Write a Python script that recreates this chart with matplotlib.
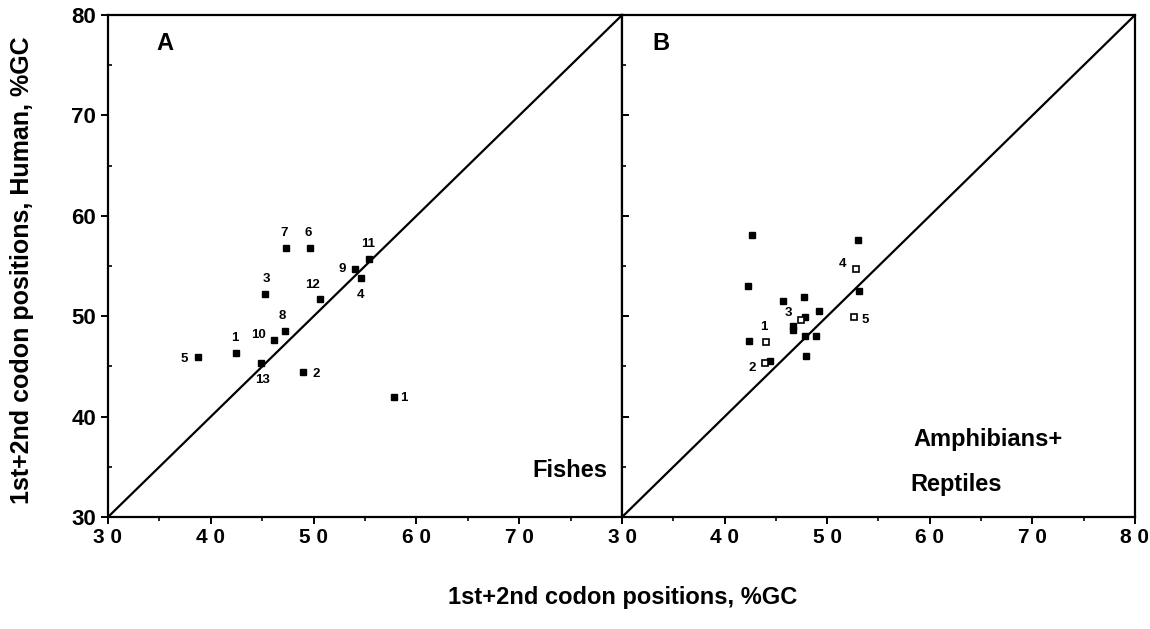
import numpy as np
import matplotlib
matplotlib.use("Agg")
import matplotlib.pyplot as plt

plt.rcParams['font.family'] = ['Liberation Sans Narrow', 'Liberation Sans', 'DejaVu Sans']
plt.rcParams['font.weight'] = 'bold'

# panel A: fishes
fish_x = [38.8, 42.5, 44.9, 45.3, 46.1, 47.2, 47.3, 49.0, 49.65, 50.6, 54.0, 54.6, 55.4, 57.8]
fish_y = [45.9, 46.3, 45.3, 52.2, 47.6, 48.5, 56.8, 44.4, 56.8, 51.7, 54.7, 53.8, 55.7, 42.0]
fish_lab = ['5', '1', '13', '3', '10', '8', '7', '2', '6', '12', '9', '4', '11', '1']
fish_off = [(-10, -1), (-1, 11), (1, -12), (1, 11), (-11, 4), (-2, 11), (-1, 11), (9, -1),
            (-1, 11), (-5, 10), (-9, 0), (0, -12), (-1, 11), (7, -1)]

# panel B: amphibians + reptiles, filled
amph_x = [42.7, 53.0, 42.3, 53.1, 45.7, 47.7, 49.2, 47.8, 46.7, 46.7, 47.8, 48.9, 42.35, 44.4, 47.9]
amph_y = [58.1, 57.6, 53.0, 52.5, 51.5, 51.9, 50.5, 49.95, 49.0, 48.6, 48.0, 48.0, 47.5, 45.5, 46.0]
# open squares, labelled
open_x = [44.0, 43.9, 47.45, 52.8, 52.6]
open_y = [47.4, 45.3, 49.6, 54.7, 49.95]
open_lab = ['1', '2', '3', '4', '5']
open_off = [(-1, 11), (-9, -3), (-9, 5), (-10, 4), (8, -2)]

fig = plt.figure(figsize=(11.5, 6.29), dpi=100)
axA = fig.add_axes([0.0939, 0.178, 0.447, 0.798])
axB = fig.add_axes([0.5409, 0.178, 0.446, 0.798])

for ax in (axA, axB):
    ax.set_xlim(30, 80)
    ax.set_ylim(30, 80)
    ax.plot([30, 80], [30, 80], color='black', lw=1.6)
    for s in ax.spines.values():
        s.set_linewidth(1.6)
    ax.set_xticks(np.arange(30, 81, 10))
    ax.set_xticks(np.arange(35, 80, 10), minor=True)
    ax.set_yticks(np.arange(30, 81, 10))
    ax.set_yticks(np.arange(35, 80, 10), minor=True)
    ax.tick_params(axis='x', which='major', direction='out', length=5, width=1.4, pad=3)
    ax.tick_params(axis='x', which='minor', direction='out', length=3, width=1.2)
    ax.tick_params(axis='y', which='major', direction='out', length=5, width=1.4)
    ax.tick_params(axis='y', which='minor', direction='in', length=3, width=1.2)

xt = ['3 0', '4 0', '5 0', '6 0', '7 0', '8 0']
axA.set_xticklabels(xt[:5] + [''], fontsize=15, fontweight='bold')
axB.set_xticklabels(xt, fontsize=15, fontweight='bold')
axA.set_yticklabels(['30', '40', '50', '60', '70', '80'], fontsize=16, fontweight='bold')
axB.tick_params(axis='y', which='major', direction='in', labelleft=False)

axA.plot(fish_x, fish_y, 's', color='black', ms=4.5)
for x, y, t, o in zip(fish_x, fish_y, fish_lab, fish_off):
    axA.annotate(t, (x, y), xytext=o, textcoords='offset points', ha='center', va='center',
                 fontsize=9.5, fontweight='bold')

axB.plot(amph_x, amph_y, 's', color='black', ms=4.5)
axB.plot(open_x, open_y, 's', mfc='white', mec='black', mew=1.2, ms=4.5)
for x, y, t, o in zip(open_x, open_y, open_lab, open_off):
    axB.annotate(t, (x, y), xytext=o, textcoords='offset points', ha='center', va='center',
                 fontsize=9.5, fontweight='bold')

axA.text(35.5, 77.2, 'A', fontsize=17, fontweight='bold', ha='center', va='center')
axB.text(33.8, 77.2, 'B', fontsize=17, fontweight='bold', ha='center', va='center')
axA.text(78.6, 34.6, 'Fishes', fontsize=17, fontweight='bold', ha='right', va='center')
axB.text(58.4, 37.7, 'Amphibians+', fontsize=17, fontweight='bold', ha='left', va='center')
axB.text(58.1, 33.2, 'Reptiles', fontsize=17, fontweight='bold', ha='left', va='center')

fig.text(0.541, 0.05, '1st+2nd codon positions, %GC', fontsize=17, fontweight='bold',
         ha='center', va='center')
fig.text(0.019, 0.57, '1st+2nd codon positions, Human, %GC', fontsize=18, fontweight='bold',
         ha='center', va='center', rotation=90)

fig.savefig('out.png', dpi=100)
